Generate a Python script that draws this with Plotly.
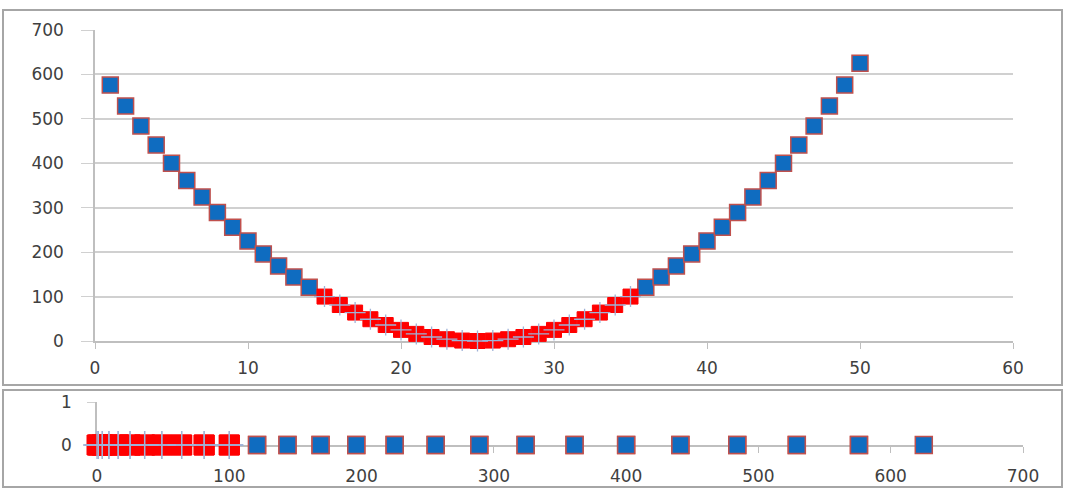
import plotly.graph_objects as go

# Data: y = values for x = 1..50
x_vals = list(range(1, 51))
y_vals = [576, 529, 484, 441, 400, 361, 324, 289, 256, 225,
          196, 169, 144, 121, 100, 81, 64, 49, 36, 25,
          16, 9, 4, 1, 0, 1, 4, 9, 16, 25,
          36, 49, 64, 81, 100, 121, 144, 169, 196, 225,
          256, 289, 324, 361, 400, 441, 484, 529, 576, 625]
threshold = 100
top_x_ticks = [0, 10, 20, 30, 40, 50, 60]
top_y_ticks = [0, 100, 200, 300, 400, 500, 600, 700]
bot_x_ticks = [0, 100, 200, 300, 400, 500, 600, 700]
bot_y_ticks = [0, 1]

blue_x = [x for x, y in zip(x_vals, y_vals) if y > threshold]
blue_y = [y for y in y_vals if y > threshold]
red_x = [x for x, y in zip(x_vals, y_vals) if y <= threshold]
red_y = [y for y in y_vals if y <= threshold]

BLUE = "#0F6CC0"
EDGE = "#C0504D"
RED = "#FF0000"
CROSS = "#9FB3D8"
GRID = "#D0D0D0"
AXIS = "#BFBFBF"
TXT = "#404040"
FONT = "DejaVu Sans"

fig = go.Figure()

# top panel
fig.add_trace(go.Scatter(x=blue_x, y=blue_y, mode="markers", xaxis="x", yaxis="y",
                         cliponaxis=False,
                         marker=dict(symbol="square", size=16, color=BLUE,
                                     line=dict(color=EDGE, width=1.5))))
fig.add_trace(go.Scatter(x=red_x, y=red_y, mode="markers", xaxis="x", yaxis="y",
                         cliponaxis=False,
                         marker=dict(symbol="square", size=15, color=RED,
                                     line=dict(color=RED, width=1))))
fig.add_trace(go.Scatter(x=red_x, y=red_y, mode="markers", xaxis="x", yaxis="y",
                         cliponaxis=False,
                         marker=dict(symbol="cross-thin", size=15,
                                     line=dict(color=CROSS, width=1.3))))

# bottom panel
fig.add_trace(go.Scatter(x=blue_y, y=[0] * len(blue_y), mode="markers", xaxis="x2", yaxis="y2",
                         cliponaxis=False,
                         marker=dict(symbol="square", size=17, color=BLUE,
                                     line=dict(color=EDGE, width=1.5))))
fig.add_trace(go.Scatter(x=red_y, y=[0] * len(red_y), mode="markers", xaxis="x2", yaxis="y2",
                         cliponaxis=False,
                         marker=dict(symbol="square", size=20, color=RED,
                                     line=dict(color=RED, width=1))))
fig.add_trace(go.Scatter(x=red_y, y=[0] * len(red_y), mode="markers", xaxis="x2", yaxis="y2",
                         cliponaxis=False,
                         marker=dict(symbol="cross-thin", size=20,
                                     line=dict(color=CROSS, width=1.3))))

W, H = 1068, 489
tickfont = dict(family=FONT, size=17, color=TXT)

fig.update_layout(
    width=W, height=H, autosize=False,
    margin=dict(l=0, r=0, t=0, b=0, pad=0, autoexpand=False),
    paper_bgcolor="white", plot_bgcolor="white", showlegend=False,
    xaxis=dict(domain=[95 / W, 1013 / W], range=[0, 60], tickvals=top_x_ticks,
               showgrid=False, zeroline=False, showline=True, linecolor=AXIS, linewidth=1.5,
               ticks="outside", ticklen=6, tickcolor=AXIS, tickfont=tickfont,
               ticklabelstandoff=5, layer="below traces", anchor="y", automargin=False),
    yaxis=dict(domain=[1 - 341 / H, 1 - 30 / H], range=[0, 700], tickvals=top_y_ticks,
               showgrid=True, gridcolor=GRID, gridwidth=1.5, zeroline=False,
               showline=True, linecolor=AXIS, linewidth=1.5,
               ticks="outside", ticklen=12, tickcolor=GRID, tickfont=tickfont,
               ticklabelstandoff=14, layer="below traces", anchor="x", automargin=False),
    xaxis2=dict(domain=[97 / W, 1023 / W], range=[0, 700], tickvals=bot_x_ticks,
                showgrid=False, zeroline=False, showline=True, linecolor=AXIS, linewidth=1.5,
                ticks="outside", ticklen=6, tickcolor=AXIS, tickfont=tickfont,
                ticklabelstandoff=9, layer="below traces", anchor="y2", automargin=False),
    yaxis2=dict(domain=[1 - 445 / H, 1 - 402 / H], range=[0, 1], tickvals=bot_y_ticks,
                showgrid=True, gridcolor=GRID, gridwidth=1.5, zeroline=False,
                showline=True, linecolor=AXIS, linewidth=1.5,
                ticks="outside", ticklen=8, tickcolor=GRID, tickfont=tickfont,
                ticklabelstandoff=12, layer="below traces", anchor="x2", automargin=False),
    shapes=[
        dict(type="rect", xref="paper", yref="paper",
             x0=3 / W, x1=1062 / W, y0=1 - 385 / H, y1=1 - 10 / H,
             line=dict(color="#A6A6A6", width=2), layer="below"),
        dict(type="rect", xref="paper", yref="paper",
             x0=3 / W, x1=1062 / W, y0=1 - 487 / H, y1=1 - 390 / H,
             line=dict(color="#A6A6A6", width=2), layer="below"),
    ],
)

fig.write_html("out.html")
